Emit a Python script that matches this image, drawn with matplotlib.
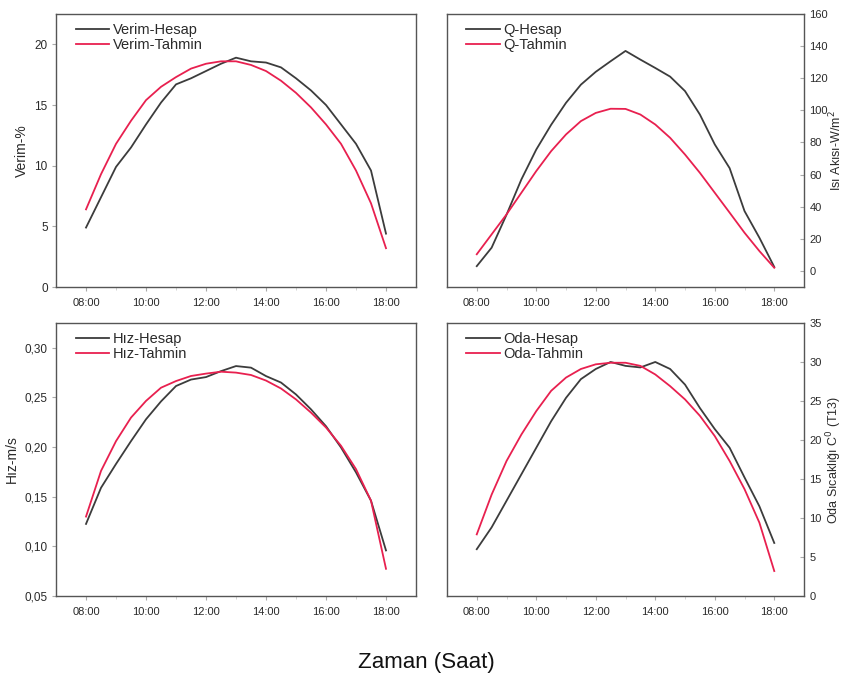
import matplotlib.pyplot as plt
from matplotlib.ticker import FixedLocator, FuncFormatter

plt.rcParams["font.family"] = ["Liberation Sans", "DejaVu Sans"]

# Saat (hours), every half hour from 08:00 to 18:00
hours = [8.0, 8.5, 9.0, 9.5, 10.0, 10.5, 11.0, 11.5, 12.0, 12.5, 13.0,
         13.5, 14.0, 14.5, 15.0, 15.5, 16.0, 16.5, 17.0, 17.5, 18.0]
hour_ticks = [8, 10, 12, 14, 16, 18]
hour_labels = ["08:00", "10:00", "12:00", "14:00", "16:00", "18:00"]

verim_hesap = [4.9, 7.4, 9.9, 11.5, 13.4, 15.2, 16.7, 17.2, 17.8, 18.4, 18.9,
               18.6, 18.5, 18.1, 17.2, 16.2, 15.0, 13.4, 11.8, 9.6, 4.4]
verim_tahmin = [6.4, 9.3, 11.8, 13.7, 15.4, 16.5, 17.3, 18.0, 18.4, 18.6, 18.6,
                18.3, 17.8, 17.0, 16.0, 14.8, 13.4, 11.8, 9.6, 6.9, 3.2]

q_hesap = [3, 14.5, 35, 57, 75.6, 91, 104.7, 116, 124, 130.6, 137,
           131.6, 126.4, 121, 112, 97.4, 78.8, 64, 37.3, 20.7, 2.5]
q_tahmin = [10.4, 22.8, 35.2, 48.7, 62.2, 74.6, 85, 93.3, 98.4, 101, 100.9,
            97.4, 91.2, 82.9, 72.5, 61.1, 48.7, 36.3, 23.8, 12.4, 2]

hiz_hesap = [0.1226, 0.159, 0.183, 0.206, 0.228, 0.246, 0.2615, 0.268, 0.2705,
             0.2765, 0.2816, 0.280, 0.2715, 0.265, 0.253, 0.238, 0.221, 0.1996,
             0.1745, 0.146, 0.0959]
hiz_tahmin = [0.130, 0.176, 0.206, 0.2297, 0.2465, 0.2598, 0.2665, 0.2716, 0.274,
              0.2759, 0.275, 0.2726, 0.267, 0.259, 0.248, 0.2347, 0.2197, 0.2013,
              0.1778, 0.146, 0.0774]

oda_hesap = [6.0, 8.8, 12.2, 15.6, 19.0, 22.4, 25.4, 27.8, 29.1, 30.0, 29.5,
             29.3, 30.0, 29.1, 27.1, 24.1, 21.4, 19.0, 15.2, 11.5, 6.8]
oda_tahmin = [7.9, 13.0, 17.3, 20.7, 23.7, 26.3, 28.0, 29.1, 29.7, 29.9, 29.9,
              29.5, 28.4, 26.9, 25.2, 23.1, 20.5, 17.3, 13.7, 9.4, 3.2]

DARK = "#3c3c3c"
RED = "#e8204f"
TXT = "#2a2a2a"
SPINE = "#555555"

fig = plt.figure(figsize=(8.45, 6.86), dpi=100)

panels = [
    # rect, hesap, tahmin, names, ylim, yticks, ylabel, right label x, comma
    ([0.0663, 0.5816, 0.426, 0.398], verim_hesap, verim_tahmin,
     ("Verim-Hesap", "Verim-Tahmin"), (0, 22.5), [0, 5, 10, 15, 20],
     "Verim-%", None, False),
    ([0.529, 0.5816, 0.4225, 0.398], q_hesap, q_tahmin,
     ("Q-Hesap", "Q-Tahmin"), (-10, 160), list(range(0, 161, 20)),
     "Isı Akısı-W/m$^2$", 1.067, False),
    ([0.0663, 0.1312, 0.426, 0.398], hiz_hesap, hiz_tahmin,
     ("Hız-Hesap", "Hız-Tahmin"), (0.05, 0.325),
     [0.05, 0.10, 0.15, 0.20, 0.25, 0.30], "Hız-m/s", None, True),
    ([0.529, 0.1312, 0.4225, 0.398], oda_hesap, oda_tahmin,
     ("Oda-Hesap", "Oda-Tahmin"), (0, 35), list(range(0, 36, 5)),
     "Oda Sıcaklığı C$^0$ (T13)", 1.058, False),
]

for rect, hesap, tahmin, names, ylim, yticks, ylabel, right_x, comma in panels:
    ax = fig.add_axes(rect)
    ax.plot(hours, hesap, color=DARK, lw=1.3, label=names[0],
            solid_joinstyle="round")
    ax.plot(hours, tahmin, color=RED, lw=1.3, label=names[1],
            solid_joinstyle="round")

    ax.set_xlim(7, 19)
    ax.set_ylim(*ylim)
    ax.xaxis.set_major_locator(FixedLocator(hour_ticks))
    ax.set_xticklabels(hour_labels)
    ax.xaxis.set_minor_locator(FixedLocator([9, 11, 13, 15, 17]))
    ax.yaxis.set_major_locator(FixedLocator(yticks))
    if comma:
        ax.yaxis.set_major_formatter(
            FuncFormatter(lambda v, p: f"{v:.2f}".replace(".", ",")))
    else:
        ax.yaxis.set_major_formatter(FuncFormatter(lambda v, p: f"{v:g}"))

    for sp in ax.spines.values():
        sp.set_color(SPINE)
        sp.set_linewidth(1.0)

    ax.tick_params(axis="x", which="major", direction="out", length=3,
                   color="#aaaaaa", labelsize=8, labelcolor=TXT, pad=5)
    ax.tick_params(axis="x", which="minor", direction="out", length=2,
                   color="#cccccc")
    if right_x is not None:
        ax.yaxis.tick_right()
        ax.yaxis.set_label_position("right")
        ax.tick_params(axis="y", direction="in", length=3, color="#aaaaaa",
                       labelsize=8, labelcolor=TXT, pad=4)
        ax.set_ylabel(ylabel, fontsize=9, color=TXT)
        # right-hand labels sit close to the figure edge
        ax.yaxis.set_label_coords(right_x, 0.5)
    else:
        ax.tick_params(axis="y", direction="out", length=3, color="#aaaaaa",
                       labelsize=8.5, labelcolor=TXT, pad=3)
        ax.set_ylabel(ylabel, fontsize=10, color=TXT, labelpad=4)

    leg = ax.legend(loc="upper left", frameon=False, fontsize=10.5,
                    handlelength=2.3, handletextpad=0.25, labelspacing=0.1,
                    borderaxespad=0.2, bbox_to_anchor=(0.03, 1.0))
    for t in leg.get_texts():
        t.set_color(TXT)

fig.text(0.505, 0.019, "Zaman (Saat)", ha="center", va="bottom",
         fontsize=16, color="#111111")

fig.savefig("out.png", dpi=100)
